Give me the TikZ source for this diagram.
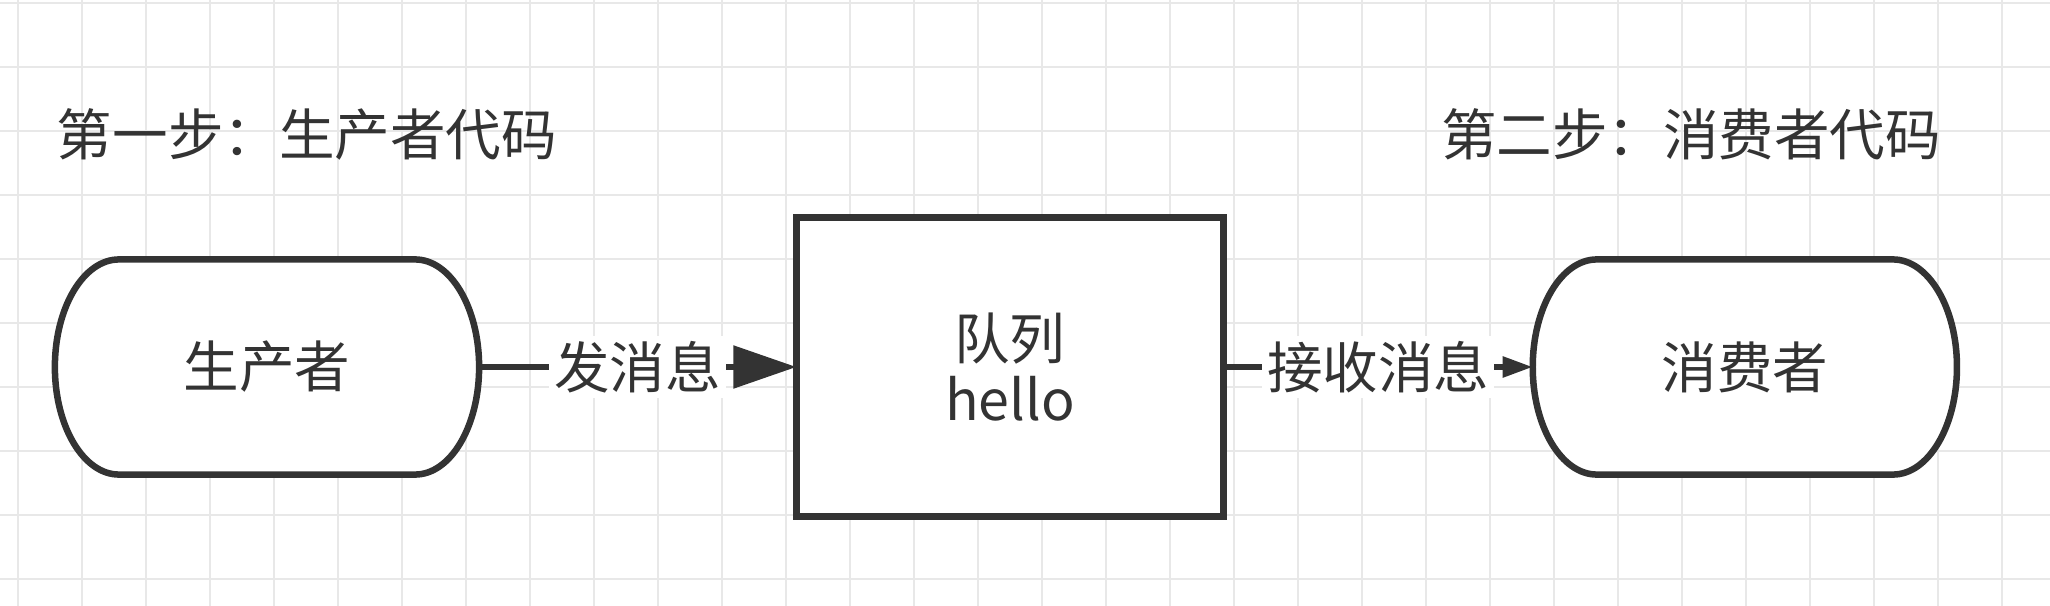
\documentclass[tikz,border=0pt]{standalone}
\usepackage{fontspec}
\usepackage{tikz}
\usetikzlibrary{positioning,arrows.meta}
\newfontfamily\cjk{Noto Sans CJK SC}
\definecolor{ink}{RGB}{51,51,51}
\definecolor{gridline}{RGB}{232,232,232}
\pgfdeclarelayer{grid}
\pgfdeclarelayer{shapes}
\pgfsetlayers{grid,shapes,main}

\begin{document}
\begin{tikzpicture}[x=0.01cm, y=-0.01cm,
every node/.style={font=\cjk\fontsize{15.8}{17.6}\selectfont, text=ink, outer sep=0pt},
termnode/.style={rectangle, minimum width=4.24cm, minimum height=2.15cm, inner sep=0pt},
queuenode/.style={rectangle, draw=ink, fill=white, line width=0.07cm, minimum width=4.27cm, minimum height=2.98cm, align=center},
titlenode/.style={anchor=west, inner sep=0pt},
msgline/.style={draw=ink, line width=0.055cm},
msglabel/.style={fill=white, inner sep=0.05cm}
]
\useasboundingbox (0,0) rectangle (2050,606);
%Grid
\begin{pgfonlayer}{grid}
\fill[white] (0,0) rectangle (2050,606);
\foreach \i in {0,...,31} \draw[gridline, line width=0.02cm] (18+64*\i,0) -- (18+64*\i,606);
\foreach \j in {0,...,9} \draw[gridline, line width=0.02cm] (0,3+64*\j) -- (2050,3+64*\j);
\end{pgfonlayer}
%Nodes
\node[titlenode]  (step1)                         at (57,134)   {第一步：生产者代码};
\node[titlenode]  (step2)                         at (1441,134) {第二步：消费者代码};
\node[termnode]   (prod)                          at (267,367)  {生产者};
\node[queuenode]  (queue) [right=3.17cm of prod]  {队列\\hello};
\node[termnode]   (cons)  [right=3.09cm of queue] {消费者};
%Terminal outlines
\begin{pgfonlayer}{shapes}
\foreach \t in {prod,cons}
  \draw[draw=ink, fill=white, line width=0.065cm]
    ([xshift=0.64cm]\t.north west) -- ([xshift=-0.64cm]\t.north east)
    arc[start angle=90, end angle=-90, x radius=0.64cm, y radius=1.075cm]
    -- ([xshift=0.64cm]\t.south west)
    arc[start angle=270, end angle=90, x radius=0.64cm, y radius=1.075cm] -- cycle;
\end{pgfonlayer}
%Lines
\draw[msgline, -{Triangle[length=6.3mm, width=4.2mm]}] (prod) -- node[msglabel] {发消息} (queue);
\draw[msgline, -{Triangle[length=3mm, width=2mm]}] (queue) -- node[msglabel] {接收消息} (cons);
\end{tikzpicture}
\end{document}
